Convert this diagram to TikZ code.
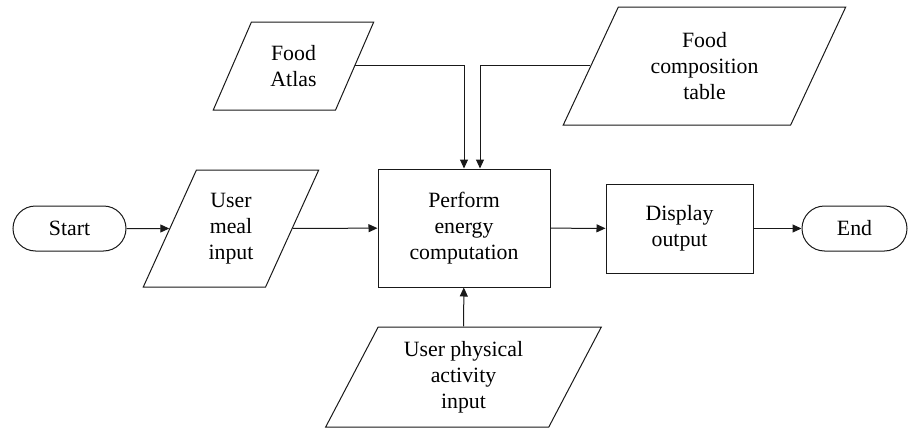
\documentclass[tikz,border=0pt]{standalone}
\usepackage{fontspec}
\setmainfont{Liberation Serif}
\usetikzlibrary{arrows.meta, positioning, shapes.geometric, shapes.misc}

\begin{document}
\begin{tikzpicture}[x=0.5pt, y=-0.5pt, >={Triangle[length=4.5pt, width=4pt]},
		every node/.style={font=\fontsize{10.9}{13}\selectfont, align=center, inner sep=1pt},
		terminal/.style={rounded rectangle, draw=black!90, line width=0.5pt, minimum width=54.5pt, minimum height=22.5pt},
		process/.style={rectangle, draw=black!90, line width=0.5pt},
		io/.style={trapezium, trapezium left angle=63.4, trapezium right angle=116.6, trapezium stretches=true, draw=black!90, line width=0.5pt},
		flow/.style={->, draw=black!90, line width=0.5pt}]

		\useasboundingbox (0,0) rectangle (912,428);

		\node[terminal, minimum width=58.5pt] (start) at (69.5, 228.5) {Start};
		\node[io, minimum width=88pt, minimum height=58.5pt] (meal) at (231, 228.5) {User\\meal\\input};

		\node[io, minimum width=80.5pt, minimum height=44pt] (atlas) at (293.5, 66) {Food\\Atlas};
		\node[io, minimum width=141.5pt, minimum height=59pt] (comp) at (704.5, 66) {Food\\composition\\table};

		\node[process, minimum width=86pt, minimum height=59pt] (perf) at (464, 228) {Perform\\energy\\computation};
		\node[io, minimum width=138.5pt, minimum height=50pt] (phys) at (463.5, 377) {User physical\\activity\\input};

		\node[process, minimum width=73.5pt, minimum height=44.5pt] (disp) at (679.5, 228.5) {Display\\output};
		\node[terminal] (end) at (854.5, 228.5) {End};

		\draw[flow] (start) -- (meal);
		\draw[flow] (meal) -- (perf);
		\draw[flow] (perf) -- (disp);
		\draw[flow] (disp) -- (end);
		\draw[flow] (atlas.east) -| (perf.north);
		\draw[flow] (comp.west) -| ([xshift=8pt]perf.north);
		\draw[flow] (phys) -- (perf);

	\end{tikzpicture}
\end{document}
